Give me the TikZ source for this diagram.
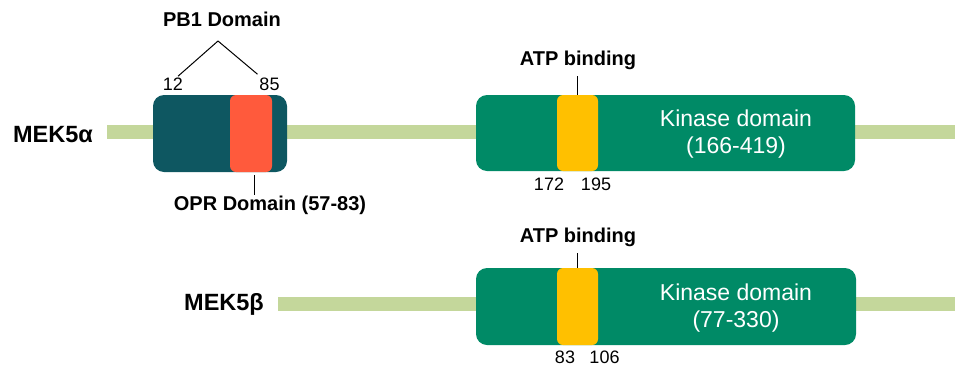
\documentclass[tikz,border=0pt]{standalone}
\usepackage{fontspec}
\setmainfont{Liberation Sans}

\definecolor{linegreen}{RGB}{196,215,155}
\definecolor{pbteal}{RGB}{14,87,97}
\definecolor{oprred}{RGB}{255,90,60}
\definecolor{kingreen}{RGB}{0,138,102}
\definecolor{atpyellow}{RGB}{255,192,0}

\begin{document}
\begin{tikzpicture}[x=1pt,y=-1pt,
  backbone/.style={draw=linegreen,line width=14pt},
  domain box/.style={rectangle,rounded corners=11pt,inner sep=0pt,minimum height=77pt},
  site box/.style={rectangle,rounded corners=6pt,inner sep=0pt,minimum height=77pt},
  isoform/.style={font=\fontsize{23.5}{28}\selectfont\bfseries,inner sep=0pt,anchor=base},
  title/.style={font=\fontsize{20}{24}\selectfont\bfseries,inner sep=0pt,anchor=base},
  num/.style={font=\fontsize{18}{22}\selectfont,inner sep=0pt,anchor=base},
  kinase text/.style={font=\fontsize{23}{27}\selectfont,text=white,align=center,inner sep=0pt},
  tick/.style={draw=black,line width=1pt}]

  \useasboundingbox (0,0) rectangle (955,370);

  \coordinate (a-start) at (107,132);
  \coordinate (a-end) at (955,132);
  \coordinate (b-start) at (278,304);
  \coordinate (b-end) at (955,304);
  \draw[backbone] (a-start) -- (a-end);
  \draw[backbone] (b-start) -- (b-end);

  \node[isoform] (mekA) at (53,142) {MEK5α};
  \node[isoform] (mekB) at (224,310) {MEK5β};

  \node[domain box,fill=pbteal,minimum width=134pt] (pb1box) at (220,133.5) {};
  \node[site box,fill=oprred,minimum width=42pt] (oprbox) at (251,133.5) {};
  \node[domain box,fill=kingreen,minimum width=379pt,minimum height=76pt] (kinA) at (665.5,133) {};
  \node[site box,fill=atpyellow,minimum width=41pt,minimum height=76pt] (siteA) at (577.5,133) {};
  \node[domain box,fill=kingreen,minimum width=380pt] (kinB) at (666,306.5) {};
  \node[site box,fill=atpyellow,minimum width=41pt] (siteB) at (577.5,306.5) {};

  \node[kinase text] (kinAtext) at (736,134) {Kinase domain\\(166-419)};
  \node[kinase text] (kinBtext) at (736,308) {Kinase domain\\(77-330)};

  \node[title] (pb1) at (222,26) {PB1 Domain};
  \coordinate (pb1apex) at (218,41);
  \node[num] (n12) at (173,90) {12};
  \node[num] (n85) at (269.5,90) {85};
  \draw[tick] (pb1apex) -- ([xshift=5pt,yshift=1pt]n12.north);
  \draw[tick] (pb1apex) -- ([xshift=-12pt,yshift=3pt]n85.north);

  \node[title] (opr) at (270,210) {OPR Domain (57-83)};
  \coordinate (oprtick) at (254,175);
  \draw[tick] (oprtick) -- (oprtick |- opr.north);

  \node[title] (atpA) at (578,65) {ATP binding};
  \draw[tick] (siteA.north) -- (siteA.north |- atpA.south) [shorten >=7pt];
  \node[num] (n172) at (549,190) {172};
  \node[num] (n195) at (596,190) {195};

  \node[title] (atpB) at (578,242) {ATP binding};
  \draw[tick] (siteB.north) -- (siteB.north |- atpB.south) [shorten >=7pt];
  \node[num] (n83) at (565,363) {83};
  \node[num] (n106) at (604.5,363) {106};
\end{tikzpicture}
\end{document}
